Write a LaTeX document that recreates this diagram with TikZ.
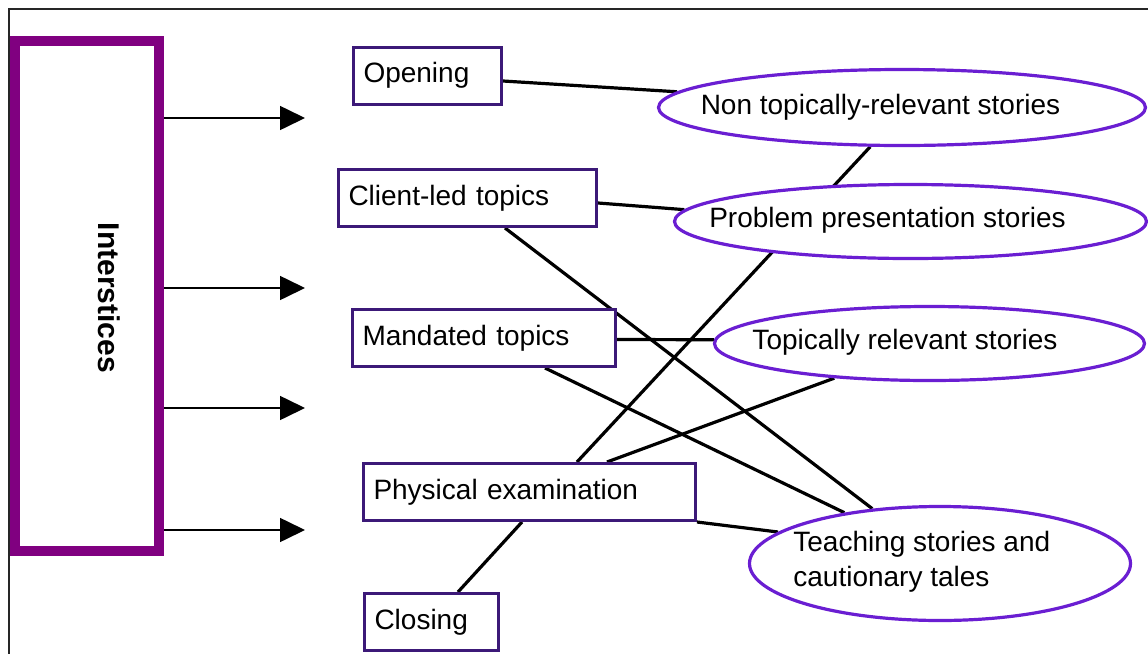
\documentclass[tikz,border=0pt]{standalone}
\usepackage{fontspec}
\setmainfont{Liberation Sans}
\usetikzlibrary{shapes.geometric,arrows.meta,calc,backgrounds}
\definecolor{intpurple}{RGB}{128,0,128}
\definecolor{boxpurple}{RGB}{60,25,120}
\definecolor{ellpurple}{RGB}{106,30,210}
\begin{document}
\begin{tikzpicture}[x=0.5pt,y=-0.5pt,
  every node/.style={font=\fontsize{14}{17.5}\selectfont, inner sep=0pt},
  topicbox/.style={draw=boxpurple, line width=1.5pt, fill=white, rectangle,
    minimum height=28.5pt, inner xsep=5pt, align=left, text height=0.72em, text depth=0em},
  story/.style={draw=ellpurple, line width=1.6pt, fill=white, ellipse, inner sep=0pt},
  storytext/.style={text height=0.72em, text depth=0em},
  link/.style={line width=1.6pt, black},
  feed/.style={line width=0.8pt, black, -{Triangle[length=12.5pt,width=12pt]}},
  frame/.style={line width=1pt, black!85}
  ]
\useasboundingbox (0,0) rectangle (1148,654);

% interstices column
\node[draw=intpurple, line width=5pt, fill=white, minimum width=72pt, minimum height=255pt] (Int) at (87,296) {};
\node[font=\fontsize{15}{18}\selectfont\bfseries, rotate=-90] (IntText) at (109,298) {Interstices};

% topic boxes
\node[topicbox, text width=64pt]  (Opening)  at (427.5,75.5) {Opening};
\node[topicbox, text width=119pt] (Client)   at (467.5,198)  {Client-led topics};
\node[topicbox, text width=121.5pt] (Mandated) at (484,338)  {Mandated topics};
\node[topicbox, text width=156pt] (Physical) at (529.5,492)  {Physical examination};
\node[topicbox, text width=57pt]  (Closing)  at (431.5,622)  {Closing};

% story ellipses
\node[story, minimum width=243.5pt, minimum height=38pt] (Non)      at (902,107.5) {};
\node[story, minimum width=236pt,   minimum height=37pt] (Problem)  at (910.5,221.5) {};
\node[story, minimum width=215pt,   minimum height=37pt] (Topical)  at (929.5,343.5) {};
\node[story, minimum width=190.5pt, minimum height=57pt] (Teaching) at (940,563.5) {};

\node[storytext] (NonText)     at (880.5,107) {Non topically-relevant stories};
\node[storytext] (ProblemText) at (887.5,220) {Problem presentation stories};
\node[storytext] (TopicalText) at (905,342)   {Topically relevant stories};
\node[anchor=west, align=left] (TeachingText) at (793,562) {Teaching stories and\\ cautionary tales};

% arrow targets
\coordinate (a1) at (305,118);
\coordinate (a2) at (305,288);
\coordinate (a3) at (305,408);
\coordinate (a4) at (305,530);

\begin{pgfonlayer}{background}
  \draw[frame] (1148,9) -- (9,9) -- (9,654);
  \draw[feed] (Int.east |- a1) -- (a1);
  \draw[feed] (Int.east |- a2) -- (a2);
  \draw[feed] (Int.east |- a3) -- (a3);
  \draw[feed] (Int.east |- a4) -- (a4);

  \draw[link] ($(Opening.east)+(0,5.5)$) -- (Non.176);
  \draw[link] ($(Client.east)+(0,5)$) -- (Problem.177);
  \draw[link] ($(Client.south)+(37.5,0)$) -- (Teaching.141.6);
  \draw[link] ($(Mandated.east)+(0,1.5)$) -- (Topical.179);
  \draw[link] ($(Mandated.south)+(61,0)$) -- (Teaching.152.8);
  \draw[link] ($(Physical.north)+(47.5,0)$) -- (Non.231);
  \draw[link] ($(Physical.north)+(77.5,0)$) -- (Topical.200.2);
  \draw[link] (Physical.south east) -- (Teaching.169.3);
  \draw[link] ($(Closing.north)+(26.5,0)$) -- ($(Physical.south)+(-7.5,0)$);
\end{pgfonlayer}
\end{tikzpicture}
\end{document}
